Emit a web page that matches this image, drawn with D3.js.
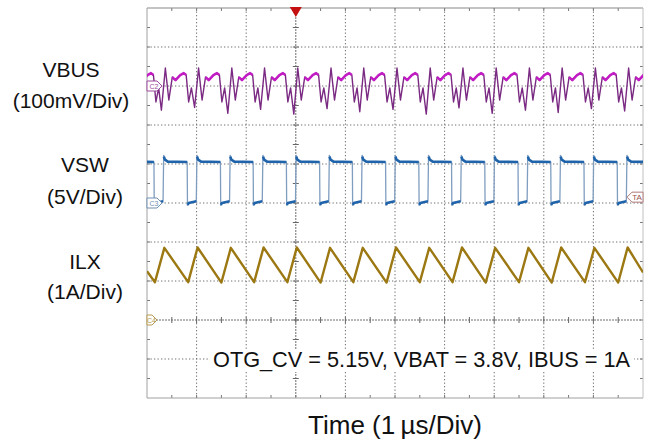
<!DOCTYPE html>
<html><head><meta charset="utf-8">
<script src="https://cdn.jsdelivr.net/npm/d3@7"></script>
<style>
html,body{margin:0;padding:0;background:#fff;}
svg{display:block;font-family:"Liberation Sans",Arial,sans-serif;}
</style></head>
<body>
<svg id="c" width="650" height="445"></svg>
<script>
// ---- data ----
const channels = ["VBUS", "VSW", "ILX"];
const channelScales = ["(100mV/Div)", "(5V/Div)", "(1A/Div)"];
const note = "OTG_CV = 5.15V, VBAT = 3.8V, IBUS = 1A";
const xTitle = "Time (1\u2009\u00b5s/Div)";

// VSW switching edges, µs
const vswFall = [-0.52, 0.14, 0.81, 1.48, 2.14, 2.81, 3.48, 4.14, 4.81, 5.48, 6.14, 6.81, 7.48, 8.14, 8.81, 9.48, 10.14];
const vswRise = [-0.33, 0.33, 1.00, 1.67, 2.33, 3.00, 3.67, 4.33, 5.00, 5.67, 6.33, 7.00, 7.67, 8.33, 9.00, 9.67, 10.33];
// VSW levels, V
const vswHigh = 5.25, vswLow = 0.12, vswUnder = -0.35, vswOver = 6.15, vswRing = 5.55;

// ILX inductor current: time (µs) / amps
const ilxT = [0, 0.16, 0.35, 0.83, 1.02, 1.50, 1.69, 2.16, 2.35, 2.83, 3.02, 3.50, 3.69, 4.16, 4.35, 4.83, 5.02, 5.50, 5.69, 6.16, 6.35, 6.83, 7.02, 7.50, 7.69, 8.16, 8.35, 8.83, 9.02, 9.50, 9.69, 10];
const ilxA = [1.25, 0.97, 1.85, 0.97, 1.86, 0.96, 1.85, 0.97, 1.86, 0.97, 1.86, 0.96, 1.85, 0.97, 1.85, 0.96, 1.86, 0.97, 1.85, 0.97, 1.86, 0.96, 1.85, 0.97, 1.85, 0.96, 1.86, 0.97, 1.85, 0.96, 1.86, 1.22];

// VBUS ripple shape within one switching cycle: offset from VSW rise (µs) / mV
const vbusDt = [-0.04, 0.04, 0.11, 0.18, 0.245, 0.34, 0.41, 0.46, 0.51, 0.565];
const vbusMv = [-64, 46, -36, 23, 15, 28, 33, 28, -41, -5];
// per-cycle depth of the minimum, mV (read cycle by cycle)
const vbusMin = [-62, -62, -55, -70, -60, -72, -58, -66, -60, -72, -56, -70, -62, -68, -58, -64, -62];

// ---- layout ----
const L = 147, R = 643, T = 8, B = 398;
const svg = d3.select("#c");
const x = d3.scaleLinear().domain([0, 10]).range([L, R]);
const gx = d3.scaleLinear().domain([0, 10]).range([L, R]);
const gy = d3.scaleLinear().domain([0, 10]).range([T, B]);
const yV = d3.scaleLinear().domain([-100, 100]).range([gy(3), gy(1)]);   // VBUS center at div 2
const yS = d3.scaleLinear().domain([0, 5]).range([gy(5), gy(4)]);       // VSW ground at div 5
const yI = d3.scaleLinear().domain([0, 1]).range([gy(8), gy(7)]);       // ILX ground at div 8

svg.append("defs").append("clipPath").attr("id", "clip")
  .append("rect").attr("x", L).attr("y", T).attr("width", R - L).attr("height", B - T);

// grid
const grid = svg.append("g");
d3.range(1, 10).forEach(k => {
  grid.append("line").attr("x1", gx(k)).attr("x2", gx(k)).attr("y1", T).attr("y2", B)
    .attr("stroke", "#6e6e6e").attr("stroke-width", 1)
    .attr("stroke-dasharray", k === 3 ? "2,1" : "1.3,2.2");
  grid.append("line").attr("y1", gy(k)).attr("y2", gy(k)).attr("x1", L).attr("x2", R)
    .attr("stroke", "#6e6e6e").attr("stroke-width", 1)
    .attr("stroke-dasharray", k === 8 ? "2,1" : "1.3,2.2");
});
// ticks at half divisions: border and the two axis lines
d3.range(0.5, 10, 0.5).forEach(h => {
  grid.append("line").attr("x1", gx(h)).attr("x2", gx(h)).attr("y1", T).attr("y2", T + 3).attr("stroke", "#777");
  grid.append("line").attr("x1", gx(h)).attr("x2", gx(h)).attr("y1", B).attr("y2", B - 3).attr("stroke", "#777");
  grid.append("line").attr("x1", gx(h)).attr("x2", gx(h)).attr("y1", gy(8) - 3).attr("y2", gy(8) + 3).attr("stroke", "#666");
  grid.append("line").attr("y1", gy(h)).attr("y2", gy(h)).attr("x1", L).attr("x2", L + 3).attr("stroke", "#777");
  grid.append("line").attr("y1", gy(h)).attr("y2", gy(h)).attr("x1", R).attr("x2", R - 3).attr("stroke", "#777");
  grid.append("line").attr("y1", gy(h)).attr("y2", gy(h)).attr("x1", gx(3) - 3).attr("x2", gx(3) + 3).attr("stroke", "#666");
});
grid.append("line").attr("x1", L).attr("x2", R).attr("y1", T).attr("y2", T).attr("stroke", "#8a8a8a").attr("stroke-width", 1.2);
grid.append("line").attr("x1", L).attr("x2", R).attr("y1", B).attr("y2", B).attr("stroke", "#a0a0a0");
grid.append("line").attr("x1", L).attr("x2", L).attr("y1", T).attr("y2", B).attr("stroke", "#a0a0a0");
grid.append("line").attr("x1", R).attr("x2", R).attr("y1", T).attr("y2", B).attr("stroke", "#c0c0c0");

const traces = svg.append("g").attr("clip-path", "url(#clip)");

// ---- VBUS ----
const vbusPts = [];
const vbusFlat = [];
vswRise.forEach((tr, i) => {
  const seg = [];
  vbusDt.forEach((dt, j) => {
    const v = j === 0 ? vbusMin[i] : vbusMv[j];
    vbusPts.push([tr + dt, v]);
    if (j >= 3 && j <= 7) seg.push([tr + dt, v]);
  });
  vbusFlat.push(seg);
});
const lineV = d3.line().x(d => x(d[0])).y(d => yV(d[1]));
traces.append("path").attr("d", lineV(vbusPts)).attr("fill", "none")
  .attr("stroke", "#7a2a82").attr("stroke-width", 1.4).attr("stroke-linejoin", "round");
vbusFlat.forEach(s => traces.append("path").attr("d", lineV(s)).attr("fill", "none")
  .attr("stroke", "#c21cc4").attr("stroke-width", 2.5).attr("stroke-linejoin", "round"));

// ---- VSW ----
const vswPts = [];
const vswFlat = [];
vswRise.forEach((tr, i) => {
  const tf = vswFall[i];
  vswPts.push([tf, vswHigh], [tf + 0.006, vswUnder], [tf + 0.03, 0], [tr - 0.006, vswLow + 0.1],
    [tr + 0.006, vswOver], [tr + 0.03, vswRing], [tr + 0.09, vswHigh + 0.05]);
  vswFlat.push([[tf + 0.01, vswUnder + 0.1], [tf + 0.03, 0], [tr - 0.006, vswLow + 0.1]]);
  const nf = i + 1 < vswFall.length ? vswFall[i + 1] : 10.5;
  vswFlat.push([[tr + 0.01, vswOver - 0.2], [tr + 0.03, vswRing], [tr + 0.09, vswHigh + 0.05], [nf, vswHigh]]);
});
const lineS = d3.line().x(d => x(d[0])).y(d => yS(d[1]));
traces.append("path").attr("d", lineS(vswPts)).attr("fill", "none")
  .attr("stroke", "#7f9dbf").attr("stroke-width", 1.3);
vswFlat.forEach(s => traces.append("path").attr("d", lineS(s)).attr("fill", "none")
  .attr("stroke", "#1f63ab").attr("stroke-width", 2.6).attr("stroke-linejoin", "round"));

// ---- ILX ----
const lineI = d3.line().x((d, i) => x(ilxT[i])).y((d, i) => yI(ilxA[i]));
traces.append("path").attr("d", lineI(ilxT)).attr("fill", "none")
  .attr("stroke", "#9c7812").attr("stroke-width", 2.4).attr("stroke-linejoin", "round");

// ---- markers ----
function leftMarker(y, col, txt, w) {
  const g = svg.append("g");
  g.append("path").attr("d", `M${L},${y - 5}H${L + w}L${L + w + 5},${y}L${L + w},${y + 5}H${L}Z`)
    .attr("fill", "#fff").attr("stroke", col).attr("stroke-width", 1);
  g.append("text").attr("x", L + 2 + w / 2).attr("y", y + 2.5).attr("text-anchor", "middle")
    .attr("font-size", 7).attr("fill", col).text(txt);
}
leftMarker(yV(0), "#9a4a9c", "C2", 10);
leftMarker(yS(0), "#6f8fb3", "C3", 10);
leftMarker(yI(0), "#b49a50", "C4", 5);
// TA marker on right
const ty = gy(4.85);
svg.append("path").attr("d", `M${R},${ty - 5}H${R - 11}L${R - 16},${ty}L${R - 11},${ty + 5}H${R}Z`)
  .attr("fill", "#fff").attr("stroke", "#b07a78").attr("stroke-width", 1);
svg.append("text").attr("x", R - 6).attr("y", ty + 3).attr("text-anchor", "middle")
  .attr("font-size", 8).attr("fill", "#9a5550").text("TA");
// trigger
svg.append("path").attr("d", `M${gx(3) - 6},${T - 1}L${gx(3) + 6},${T - 1}L${gx(3)},${T + 9}Z`).attr("fill", "#c41010");

// ---- labels ----
const labelPos = [[71, 77, 108], [85, 172, 204], [85, 269, 299]];
channels.forEach((c, i) => {
  svg.append("text").attr("x", labelPos[i][0]).attr("y", labelPos[i][1]).attr("text-anchor", "middle")
    .attr("font-size", 21).attr("fill", "#111").text(c);
  svg.append("text").attr("x", labelPos[i][0]).attr("y", labelPos[i][2]).attr("text-anchor", "middle")
    .attr("font-size", 21).attr("fill", "#111").text(channelScales[i]);
});
svg.append("rect").attr("x", 210).attr("y", 349).attr("width", 424).attr("height", 23).attr("fill", "#fff");
svg.append("text").attr("x", 213).attr("y", 367).attr("font-size", 21.5).attr("fill", "#111")
  .attr("textLength", 417).attr("lengthAdjust", "spacingAndGlyphs").text(note);
svg.append("text").attr("x", 308).attr("y", 434)
  .attr("font-size", 25).attr("fill", "#111")
  .attr("textLength", 174).attr("lengthAdjust", "spacingAndGlyphs").text(xTitle);
</script>
</body></html>
